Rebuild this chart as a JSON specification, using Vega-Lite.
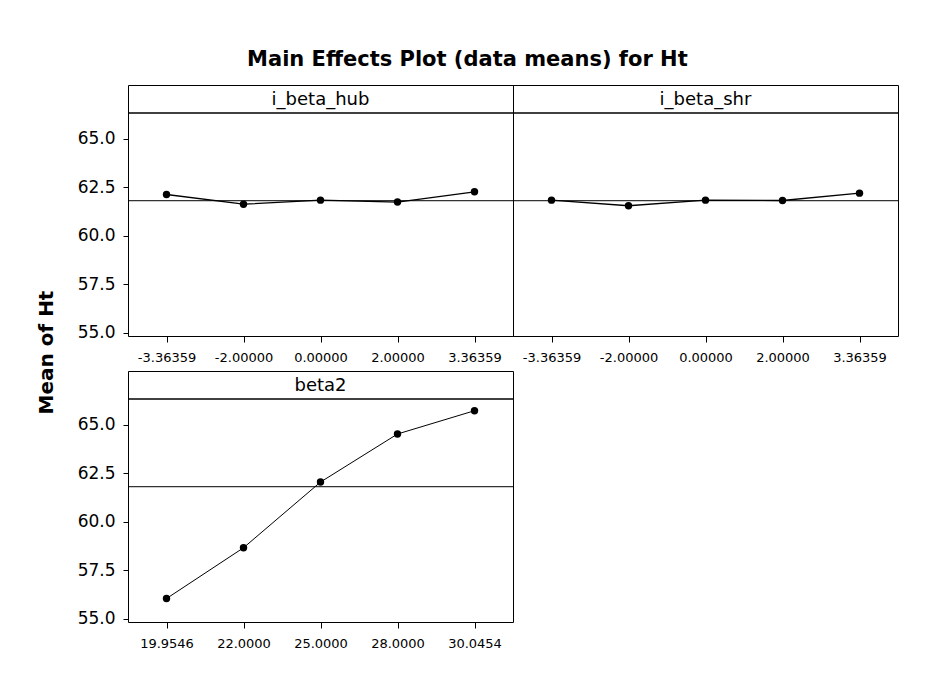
{
  "$schema": "https://vega.github.io/schema/vega-lite/v6.json",
  "background": "white",
  "padding": {"left": 35, "top": 48, "right": 5, "bottom": 5},
  "autosize": {"type": "pad"},
  "title": {
    "text": "Main Effects Plot (data means) for Ht",
    "font": "DejaVu Sans",
    "fontSize": 21,
    "fontWeight": "bold",
    "color": "black",
    "anchor": "middle",
    "offset": 15
  },
  "datasets": {
    "means": [
      {"factor": "i_beta_hub", "level": "-3.36359", "order": 1, "mean": 62.13},
      {"factor": "i_beta_hub", "level": "-2.00000", "order": 2, "mean": 61.63},
      {"factor": "i_beta_hub", "level": "0.00000", "order": 3, "mean": 61.84},
      {"factor": "i_beta_hub", "level": "2.00000", "order": 4, "mean": 61.74},
      {"factor": "i_beta_hub", "level": "3.36359", "order": 5, "mean": 62.27},
      {"factor": "i_beta_shr", "level": "-3.36359", "order": 1, "mean": 61.84},
      {"factor": "i_beta_shr", "level": "-2.00000", "order": 2, "mean": 61.55},
      {"factor": "i_beta_shr", "level": "0.00000", "order": 3, "mean": 61.84},
      {"factor": "i_beta_shr", "level": "2.00000", "order": 4, "mean": 61.82},
      {"factor": "i_beta_shr", "level": "3.36359", "order": 5, "mean": 62.2},
      {"factor": "beta2", "level": "19.9546", "order": 1, "mean": 56.04},
      {"factor": "beta2", "level": "22.0000", "order": 2, "mean": 58.66},
      {"factor": "beta2", "level": "25.0000", "order": 3, "mean": 62.05},
      {"factor": "beta2", "level": "28.0000", "order": 4, "mean": 64.53},
      {"factor": "beta2", "level": "30.0454", "order": 5, "mean": 65.73}
    ],
    "grand": [{"grand_mean": 61.81}]
  },
  "config": {
    "view": {"stroke": "black", "strokeWidth": 1},
    "axis": {
      "domain": false,
      "grid": false,
      "tickColor": "black",
      "labelColor": "black",
      "labelFont": "DejaVu Sans",
      "titleColor": "black"
    }
  },
  "columns": 2,
  "spacing": {"row": 35, "column": 0},
  "bounds": "flush",
  "concat": [
    {
      "width": 385, "height": 251,
      "title": {"text": "i_beta_hub", "font": "DejaVu Sans", "fontSize": 18, "fontWeight": "normal", "color": "black", "anchor": "middle", "baseline": "middle", "offset": -14, "dy": 19, "frame": "group"},
      "layer": [
        {
          "data": {"name": "grand"},
          "mark": {"type": "rule", "color": "black", "strokeWidth": 1},
          "encoding": {
            "y": {"field": "grand_mean", "type": "quantitative",
              "scale": {"domain": [54.83, 67.78], "nice": false, "zero": false},
              "axis": {"values": [55, 57.5, 60, 62.5, 65], "format": ".1f", "labelFontSize": 17, "tickSize": 5, "labelPadding": 8,
                "title": "Mean of Ht", "titleFont": "DejaVu Sans", "titleFontSize": 20, "titleFontWeight": "bold",
                "titleAngle": 270, "titleAlign": "center", "titleBaseline": "middle", "titleX": -82, "titleY": 267}}
          }
        },
        {
          "data": {"name": "grand"},
          "mark": {"type": "rule", "color": "black", "strokeWidth": 1.5},
          "encoding": {"y": {"datum": 66.34, "type": "quantitative"}}
        },
        {
          "data": {"name": "means"},
          "transform": [{"filter": "datum.factor == 'i_beta_hub'"}],
          "mark": {"type": "line", "color": "black", "strokeWidth": 1.3},
          "encoding": {
            "x": {"field": "level", "type": "ordinal", "sort": {"field": "order", "op": "min"},
              "scale": {"type": "point", "padding": 0.5},
              "axis": {"labelAngle": 0, "labelFontSize": 13, "tickSize": 6, "labelPadding": 9, "title": null}},
            "y": {"field": "mean", "type": "quantitative"}
          }
        },
        {
          "data": {"name": "means"},
          "transform": [{"filter": "datum.factor == 'i_beta_hub'"}],
          "mark": {"type": "point", "filled": true, "color": "black", "size": 55, "opacity": 1},
          "encoding": {
            "x": {"field": "level", "type": "ordinal", "sort": {"field": "order", "op": "min"}},
            "y": {"field": "mean", "type": "quantitative"}
          }
        }
      ]
    },
    {
      "width": 385, "height": 251,
      "title": {"text": "i_beta_shr", "font": "DejaVu Sans", "fontSize": 18, "fontWeight": "normal", "color": "black", "anchor": "middle", "baseline": "middle", "offset": -14, "dy": 19, "frame": "group"},
      "layer": [
        {
          "data": {"name": "grand"},
          "mark": {"type": "rule", "color": "black", "strokeWidth": 1},
          "encoding": {
            "y": {"field": "grand_mean", "type": "quantitative",
              "scale": {"domain": [54.83, 67.78], "nice": false, "zero": false},
              "axis": null}
          }
        },
        {
          "data": {"name": "grand"},
          "mark": {"type": "rule", "color": "black", "strokeWidth": 1.5},
          "encoding": {"y": {"datum": 66.34, "type": "quantitative"}}
        },
        {
          "data": {"name": "means"},
          "transform": [{"filter": "datum.factor == 'i_beta_shr'"}],
          "mark": {"type": "line", "color": "black", "strokeWidth": 1.3},
          "encoding": {
            "x": {"field": "level", "type": "ordinal", "sort": {"field": "order", "op": "min"},
              "scale": {"type": "point", "padding": 0.5},
              "axis": {"labelAngle": 0, "labelFontSize": 13, "tickSize": 6, "labelPadding": 9, "title": null}},
            "y": {"field": "mean", "type": "quantitative"}
          }
        },
        {
          "data": {"name": "means"},
          "transform": [{"filter": "datum.factor == 'i_beta_shr'"}],
          "mark": {"type": "point", "filled": true, "color": "black", "size": 55, "opacity": 1},
          "encoding": {
            "x": {"field": "level", "type": "ordinal", "sort": {"field": "order", "op": "min"}},
            "y": {"field": "mean", "type": "quantitative"}
          }
        }
      ]
    },
    {
      "width": 385, "height": 251,
      "title": {"text": "beta2", "font": "DejaVu Sans", "fontSize": 18, "fontWeight": "normal", "color": "black", "anchor": "middle", "baseline": "middle", "offset": -14, "dy": 19, "frame": "group"},
      "layer": [
        {
          "data": {"name": "grand"},
          "mark": {"type": "rule", "color": "black", "strokeWidth": 1},
          "encoding": {
            "y": {"field": "grand_mean", "type": "quantitative",
              "scale": {"domain": [54.83, 67.78], "nice": false, "zero": false},
              "axis": {"values": [55, 57.5, 60, 62.5, 65], "format": ".1f", "labelFontSize": 17, "tickSize": 5, "labelPadding": 8, "title": null}}
          }
        },
        {
          "data": {"name": "grand"},
          "mark": {"type": "rule", "color": "black", "strokeWidth": 1.5},
          "encoding": {"y": {"datum": 66.34, "type": "quantitative"}}
        },
        {
          "data": {"name": "means"},
          "transform": [{"filter": "datum.factor == 'beta2'"}],
          "mark": {"type": "line", "color": "black", "strokeWidth": 1},
          "encoding": {
            "x": {"field": "level", "type": "ordinal", "sort": {"field": "order", "op": "min"},
              "scale": {"type": "point", "padding": 0.5},
              "axis": {"labelAngle": 0, "labelFontSize": 13, "tickSize": 6, "labelPadding": 9, "title": null}},
            "y": {"field": "mean", "type": "quantitative"}
          }
        },
        {
          "data": {"name": "means"},
          "transform": [{"filter": "datum.factor == 'beta2'"}],
          "mark": {"type": "point", "filled": true, "color": "black", "size": 55, "opacity": 1},
          "encoding": {
            "x": {"field": "level", "type": "ordinal", "sort": {"field": "order", "op": "min"}},
            "y": {"field": "mean", "type": "quantitative"}
          }
        }
      ]
    }
  ]
}
